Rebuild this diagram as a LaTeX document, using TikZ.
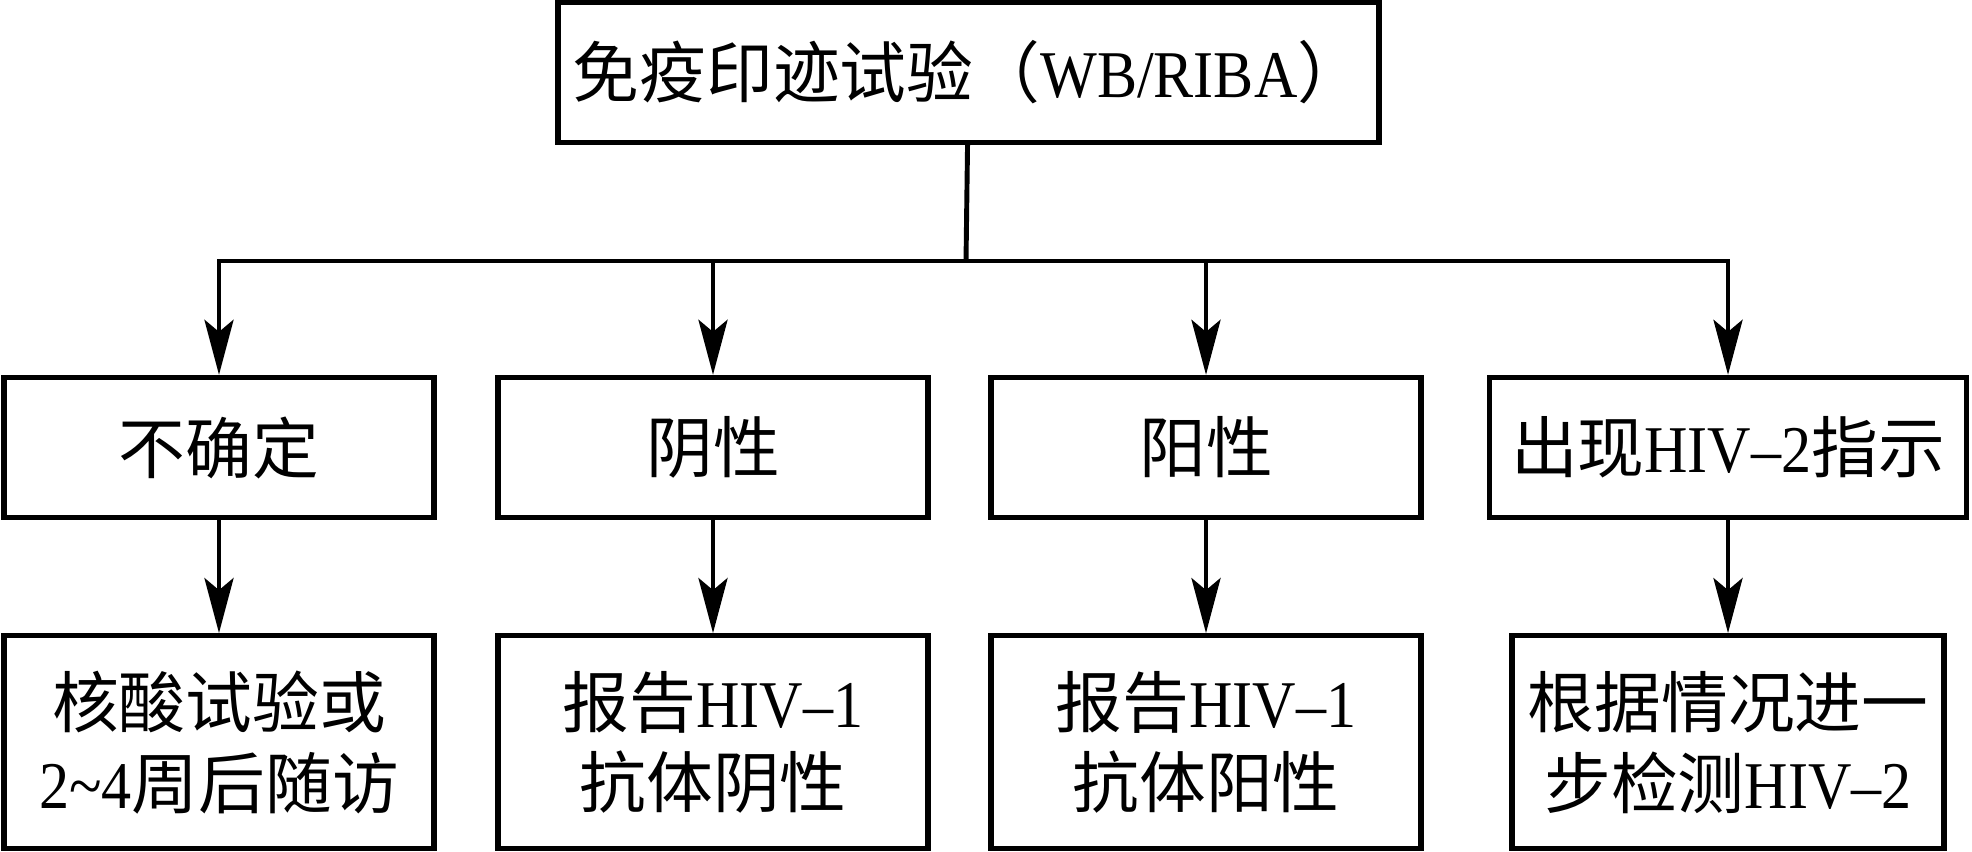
\documentclass[tikz,border=0pt]{standalone}
\usepackage{fontspec}
\setmainfont{Liberation Serif}[FakeStretch=0.9]
\newfontfamily\cjk{Noto Sans CJK SC}
\usetikzlibrary{positioning, arrows.meta}

\begin{document}
\begin{tikzpicture}[node distance={11.3mm}, line width=1.4pt,
  main/.style = {draw, rectangle, line width=1.5pt, align=center, inner sep=0pt,
    minimum width=4.3cm, minimum height=1.4cm, font=\fontsize{19}{23}\selectfont},
  tall/.style = {main, minimum height=2.13cm},
  arr/.style = {-{Stealth[length=5.5mm, width=2.9mm, inset=1.2mm]}}]
\useasboundingbox (0,0) rectangle (19.72,-8.52);
\node[main, minimum width=8.21cm] (0) at (9.685,-0.725) {{\cjk 免疫印迹试验（}WB/RIBA{\cjk ）}};
\node[main] (1) at (2.19,-4.475) {\cjk 不确定};
\node[main] (2) at (7.13,-4.475) {\cjk 阴性};
\node[main] (3) at (12.06,-4.475) {\cjk 阳性};
\node[main, minimum width=4.77cm] (4) at (17.28,-4.475) {{\cjk 出现}HIV–2{\cjk 指示}};
\node[tall] (5) [below=of 1] {{\cjk 核酸试验或}\\2\textasciitilde 4{\cjk 周后随访}};
\node[tall] (6) [below=of 2] {{\cjk 报告}HIV–1\\{\cjk 抗体阴性}};
\node[tall] (7) [below=of 3] {{\cjk 报告}HIV–1\\{\cjk 抗体阳性}};
\node[tall, minimum width=4.32cm] (8) [below=of 4] {{\cjk 根据情况进一}\\{\cjk 步检测}HIV–2};
\coordinate (j) at (9.66,-2.61);
\draw (0) -- (j);
\draw[arr] (j) -| (1);
\draw[arr] (j) -| (2);
\draw[arr] (j) -| (3);
\draw[arr] (j) -| (4);
\draw[arr] (1) -- (5);
\draw[arr] (2) -- (6);
\draw[arr] (3) -- (7);
\draw[arr] (4) -- (8);
\end{tikzpicture}
\end{document}
